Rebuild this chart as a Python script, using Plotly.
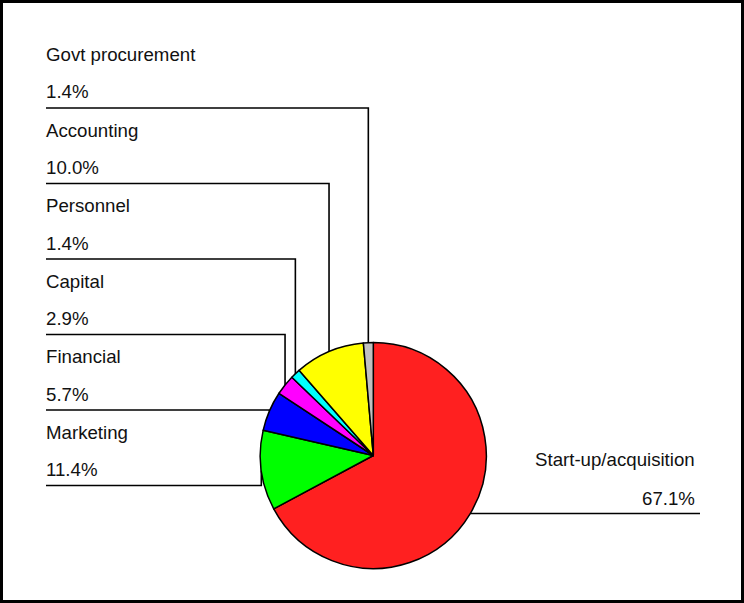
import math
import plotly.graph_objects as go

# Slice data, listed clockwise from 12 o'clock
categories = ["Start-up/acquisition", "Marketing", "Financial", "Capital",
              "Personnel", "Accounting", "Govt procurement"]
shares = [67.1, 11.4, 5.7, 2.9, 1.4, 10.0, 1.4]
colors = ["#ff2020", "#00ff00", "#0000ff", "#ff00ff", "#00ffff", "#ffff00", "#c0c0c0"]

# Labels stacked on the left (top to bottom) and the one on the right
left_labels = ["Govt procurement", "Accounting", "Personnel", "Capital",
               "Financial", "Marketing"]
right_labels = ["Start-up/acquisition"]

W, H = 744, 603
CX, CY, R = 373.3, 455.5, 113.0      # pie centre and radius in pixels
FONT = dict(family="Liberation Sans, Arial, sans-serif", size=18.67, color="#111111")


def px(x):
    return x / W


def py(y):
    return 1 - y / H


fig = go.Figure(go.Pie(
    labels=categories,
    values=shares,
    sort=False,
    direction="clockwise",
    rotation=0,
    marker=dict(colors=colors, line=dict(color="#000000", width=1.5)),
    textinfo="none",
    hoverinfo="label+percent",
    showlegend=False,
    domain=dict(x=[px(CX - R), px(CX + R)], y=[py(CY + R), py(CY - R)]),
))

# Mid-angle of every slice (clockwise from the top), from the normalised shares
total = sum(shares)
mid_point = {}
acc = 0.0
for name, v in zip(categories, shares):
    theta = 2 * math.pi * (acc + v / 2) / total
    mid_point[name] = (CX + R * math.sin(theta), CY - R * math.cos(theta))
    acc += v
value_of = dict(zip(categories, shares))

shapes = []
annotations = []
LINE_W = 1.6
LINE_X = 46
TEXT_X = 44
first_line_y, step = 108.0, 75.5

for i, name in enumerate(left_labels):
    ly = first_line_y + i * step
    mx, my = mid_point[name]
    path = f"M {px(LINE_X)},{py(ly)} L {px(mx)},{py(ly)} L {px(mx)},{py(my)}"
    shapes.append(dict(type="path", path=path, xref="paper", yref="paper",
                       line=dict(color="#000000", width=LINE_W), layer="below"))
    annotations.append(dict(text=name, x=px(TEXT_X), y=py(ly - 53.5),
                            xanchor="left", yanchor="middle"))
    annotations.append(dict(text=f"{value_of[name]:.1f}%", x=px(TEXT_X), y=py(ly - 16),
                            xanchor="left", yanchor="middle"))

RIGHT_END = 700
for name in right_labels:
    mx, my = mid_point[name]
    shapes.append(dict(type="line", xref="paper", yref="paper",
                       x0=px(mx), y0=py(my), x1=px(RIGHT_END), y1=py(my),
                       line=dict(color="#000000", width=LINE_W), layer="below"))
    annotations.append(dict(text=name, x=px(697), y=py(my - 54),
                            xanchor="right", yanchor="middle"))
    annotations.append(dict(text=f"{value_of[name]:.1f}%", x=px(697), y=py(my - 15.5),
                            xanchor="right", yanchor="middle"))

for a in annotations:
    a.update(xref="paper", yref="paper", showarrow=False, font=FONT)

# Outer frame
shapes.append(dict(type="rect", xref="paper", yref="paper",
                   x0=px(1.5), y0=py(H - 1.5), x1=px(W - 1.5), y1=py(1.5),
                   line=dict(color="#000000", width=3), layer="above"))

fig.update_layout(
    width=W, height=H,
    margin=dict(l=0, r=0, t=0, b=0),
    paper_bgcolor="#ffffff",
    plot_bgcolor="#ffffff",
    shapes=shapes,
    annotations=annotations,
)

fig.write_html("out.html")
